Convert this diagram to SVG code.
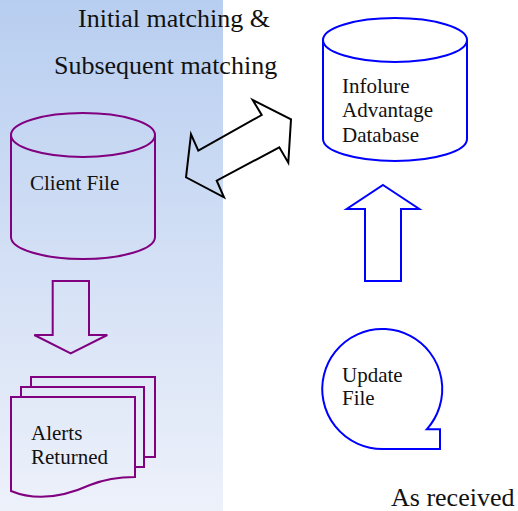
<svg xmlns="http://www.w3.org/2000/svg" width="518" height="511" viewBox="0 0 518 511">
  <defs>
    <linearGradient id="bg" x1="0" y1="0" x2="0" y2="1">
      <stop offset="0" stop-color="#b8cef0"/>
      <stop offset="1" stop-color="#edf1fa"/>
    </linearGradient>
    <style>
      .t { font-family: "Liberation Serif", "Times New Roman", serif; fill: #111; }
      .big { font-size: 26px; }
      .sm { font-size: 21px; }
      .pur { fill: none; stroke: #800080; stroke-width: 2; }
      .blu { fill: none; stroke: #0000ff; stroke-width: 2; }
      .blk { fill: #ffffff; fill-opacity: 0; stroke: #000; stroke-width: 2; stroke-linejoin: miter; }
    </style>
  </defs>
  <rect x="0" y="0" width="518" height="511" fill="#ffffff"/>
  <rect x="0" y="0" width="223" height="511" fill="url(#bg)"/>

  <g id="title">
    <text class="t big" x="78" y="27">Initial matching &amp;</text>
    <text class="t big" x="54" y="74">Subsequent matching</text>
  </g>

  <g id="client-file">
    <path class="pur" d="M11,135 A72,22 0 0 1 155,135 A72,22 0 0 1 11,135 L11,237 A72,22 0 0 0 155,237 L155,135"/>
    <text class="t sm" x="30" y="190">Client File</text>
  </g>

  <g id="infolure-db">
    <path class="blu" d="M323,40 A72,22 0 0 1 467,40 A72,22 0 0 1 323,40 L323,139 A72,22 0 0 0 467,139 L467,40"/>
    <text class="t sm" x="342" y="93">Infolure</text>
    <text class="t sm" x="342" y="117">Advantage</text>
    <text class="t sm" x="342" y="142">Database</text>
  </g>

  <g id="alerts-returned">
    <path class="pur" d="M31,387 L31,377 L155,377 L155,457 L144,457"/>
    <path class="pur" d="M21,397 L21,387 L144,387 L144,467 L135,467"/>
    <path class="pur" d="M11,491 L11,397 L135,397 L135,477 C120,477 105,479 90,485 C70,494 40,503 11,491 Z"/>
    <text class="t sm" x="31" y="440">Alerts</text>
    <text class="t sm" x="31" y="464">Returned</text>
  </g>

  <g id="update-file">
    <path class="blu" d="M383,449 A60,60 0 1 1 426.7,429.3 L440,429.3 L440,449 Z"/>
    <text class="t sm" x="342" y="382">Update</text>
    <text class="t sm" x="342" y="405">File</text>
  </g>

  <g id="as-received">
    <text class="t big" x="391" y="506">As received</text>
  </g>

  <g id="connectors">
    <polygon class="blk" points="186,177.3 191,134.3 198.3,150.7 261.7,115 252.7,100 291,119.3 288.3,162.7 279.3,147.3 216.7,180.7 224,197.3"/>
    <polygon class="pur" points="52.7,281 89,281 89,335 107.3,335 70.7,353.3 34.3,335 52.7,335"/>
    <polygon class="blu" points="383,185 419.3,209 401,209 401,281 365,281 365,209 346.7,209"/>
  </g>
</svg>
